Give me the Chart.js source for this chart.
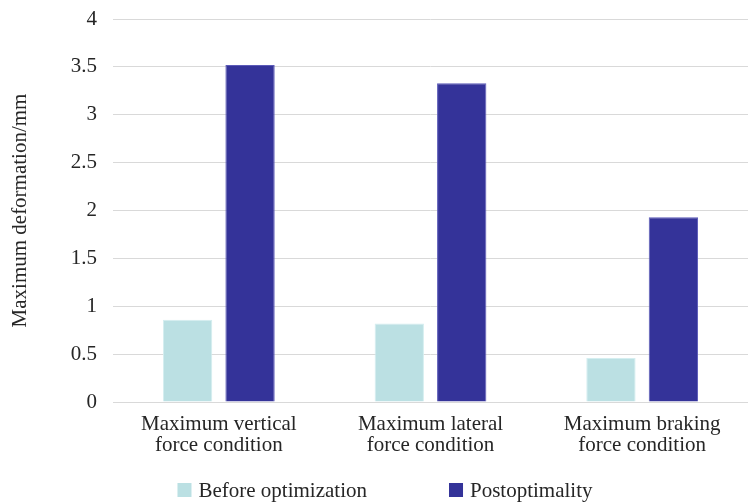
<!DOCTYPE html>
<html>
<head>
<meta charset="utf-8">
<script src="https://cdn.jsdelivr.net/npm/chart.js@4/dist/chart.umd.min.js"></script>
<style>
  html, body { margin: 0; padding: 0; background: #fff; }
  #wrap { width: 748px; height: 503px; }
</style>
</head>
<body>
<div id="wrap"><canvas id="myChart" width="748" height="503"></canvas></div>
<script>
const categories = [
  ["Maximum vertical", "force condition"],
  ["Maximum lateral", "force condition"],
  ["Maximum braking", "force condition"]
];
const beforeOpt = [0.86, 0.82, 0.46];
const postOpt = [3.52, 3.33, 1.93];

const ctx = document.getElementById("myChart").getContext("2d");

const serif = "'Liberation Serif', 'Times New Roman', serif";
const textColor = "#262626";

// legend drawn by hand so the gap between the two items can be wide
const bottomLegend = {
  id: "bottomLegend",
  afterDraw(chart) {
    const c = chart.ctx;
    const sets = chart.data.datasets;
    c.save();
    c.font = "21px " + serif;
    c.textBaseline = "middle";
    const box = 14, gapText = 7, gapItem = 82;
    let total = 0;
    sets.forEach((ds, i) => {
      total += box + gapText + c.measureText(ds.label).width;
      if (i < sets.length - 1) total += gapItem;
    });
    let x = chart.width / 2 + 11 - total / 2;
    const y = 490;
    sets.forEach((ds) => {
      c.fillStyle = ds.backgroundColor;
      c.fillRect(x, y - box / 2, box, box);
      x += box + gapText;
      c.fillStyle = textColor;
      c.fillText(ds.label, x, y + 1);
      x += c.measureText(ds.label).width + gapItem;
    });
    c.restore();
  },
};

new Chart(ctx, {
  type: "bar",
  data: {
    labels: categories,
    datasets: [
      {
        label: "Before optimization",
        data: beforeOpt,
        backgroundColor: "#bbe0e3",
        borderColor: "#d4eef0",
        borderWidth: 1,
        categoryPercentage: 0.59,
        barPercentage: 0.79,
      },
      {
        label: "Postoptimality",
        data: postOpt,
        backgroundColor: "#343399",
        borderColor: "#5b5ab8",
        borderWidth: 1,
        categoryPercentage: 0.59,
        barPercentage: 0.79,
      },
    ],
  },
  plugins: [bottomLegend],
  options: {
    responsive: false,
    animation: false,
    layout: { padding: { left: 0, right: 0, top: 19, bottom: 0 } },
    plugins: {
      tooltip: { enabled: false },
      legend: { display: false },
    },
    scales: {
      x: {
        grid: { display: false },
        border: { display: true, color: "#d9d9d9", width: 1 },
        ticks: {
          color: textColor,
          font: { family: serif, size: 21, lineHeight: 1.0 },
          maxRotation: 0,
          padding: 4,
        },
        afterFit(scale) {
          scale.height = 101;
        },
      },
      y: {
        min: 0,
        max: 4,
        ticks: {
          stepSize: 0.5,
          color: textColor,
          font: { family: serif, size: 21 },
          padding: 16,
          callback: (v) => String(v),
        },
        grid: { color: "#d9d9d9", drawTicks: false },
        border: { display: false },
        title: {
          display: true,
          text: "Maximum deformation/mm",
          color: textColor,
          font: { family: serif, size: 21 },
          padding: { top: 8, bottom: 0 },
        },
        afterFit(scale) {
          scale.width = 113;
          scale.paddingTop = 0;
          scale.paddingBottom = 0;
        },
      },
    },
  },
});
</script>
</body>
</html>
